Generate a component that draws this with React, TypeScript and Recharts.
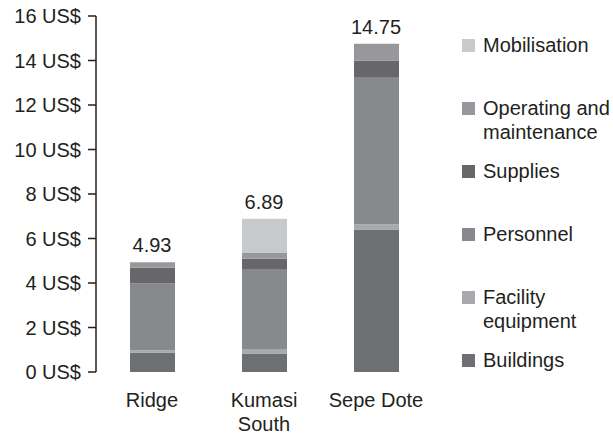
import React from 'react';
import { BarChart, Bar, XAxis, YAxis, ReferenceDot } from 'recharts';

const categories = ['Ridge', 'Kumasi South', 'Sepe Dote'];
const buildings = [0.88, 0.83, 6.4];
const facilityEquipment = [0.1, 0.2, 0.23];
const personnel = [3.0, 3.6, 6.6];
const supplies = [0.7, 0.46, 0.77];
const operatingMaintenance = [0.25, 0.28, 0.75];
const mobilisation = [0, 1.52, 0];
const totals = [4.93, 6.89, 14.75];
const totalLabels = ['4.93', '6.89', '14.75'];
const yTicks = [0, 2, 4, 6, 8, 10, 12, 14, 16];
const boundaryTicks = [1, 2, 3];

const series = [
  { key: 'buildings', name: 'Buildings', values: buildings, color: '#6e6f72' },
  { key: 'facility', name: 'Facility equipment', values: facilityEquipment, color: '#a8a9ac' },
  { key: 'personnel', name: 'Personnel', values: personnel, color: '#88898c' },
  { key: 'supplies', name: 'Supplies', values: supplies, color: '#676769' },
  { key: 'om', name: 'Operating and maintenance', values: operatingMaintenance, color: '#97989b' },
  { key: 'mobilisation', name: 'Mobilisation', values: mobilisation, color: '#c8c9cb' },
];

const data = categories.map((name, i) => {
  const row: any = { name, pos: i + 0.5, total: totals[i], totalLabel: totalLabels[i] };
  series.forEach((s) => {
    row[s.key] = s.values[i];
  });
  return row;
});

const FONT = '"Liberation Sans", Arial, Helvetica, sans-serif';
const INK = '#231f20';
const FS = 20;
const WRAP_WIDTH = 104;

let ctx: CanvasRenderingContext2D | null = null;
function measure(text: string): number {
  if (!ctx && typeof document !== 'undefined') {
    ctx = document.createElement('canvas').getContext('2d');
  }
  if (!ctx) return text.length * FS * 0.55;
  ctx.font = `${FS}px ${FONT}`;
  return ctx.measureText(text).width;
}

function wrap(text: string, width: number): string[] {
  const words = text.split(/\s+/);
  const lines: string[] = [];
  let cur = '';
  words.forEach((w) => {
    const cand = cur ? `${cur} ${w}` : w;
    if (cur && measure(cand) > width) {
      lines.push(cur);
      cur = w;
    } else {
      cur = cand;
    }
  });
  if (cur) lines.push(cur);
  return lines;
}

const CatTick = (props: any) => {
  const { x, y, payload } = props;
  const lines = wrap(String(payload.value), WRAP_WIDTH);
  return (
    <text
      x={x}
      y={y}
      textAnchor="middle"
      fontSize={FS}
      fontFamily={FONT}
      fill={INK}
    >
      {lines.map((l, i) => (
        <tspan key={i} x={x} dy={i === 0 ? '0.71em' : 24}>
          {l}
        </tspan>
      ))}
    </text>
  );
};

export default function App() {
  const legendItems = [...series].reverse();
  return (
    <div style={{ position: 'absolute', left: 0, top: 0, width: 613, height: 434, background: '#fff' }}>
      <BarChart
        width={613}
        height={434}
        data={data}
        margin={{ top: 16, right: 181, left: 0, bottom: 0 }}
        barSize={45}
      >
        <XAxis
          xAxisId="bound"
          type="number"
          dataKey="pos"
          domain={[0, 3]}
          ticks={boundaryTicks}
          allowDataOverflow
          height={0}
          tick={false}
          tickSize={7}
          axisLine={{ stroke: INK, strokeWidth: 1.5 }}
          tickLine={{ stroke: INK, strokeWidth: 1.5 }}
        />
        <XAxis
          xAxisId="cat"
          dataKey="name"
          height={62}
          axisLine={false}
          tickLine={false}
          tickSize={0}
          tickMargin={21}
          interval={0}
          tick={<CatTick />}
        />
        <YAxis
          width={96}
          domain={[0, 16]}
          ticks={yTicks}
          interval={0}
          tickFormatter={(v: number) => `${v} US$`}
          tick={{ fontSize: FS, fontFamily: FONT, fill: INK }}
          tickSize={8}
          tickMargin={7}
          axisLine={{ stroke: INK, strokeWidth: 1.5 }}
          tickLine={{ stroke: INK, strokeWidth: 1.5 }}
        />
        {series.map((s) => (
          <Bar
            key={s.key}
            xAxisId="cat"
            dataKey={s.key}
            name={s.name}
            stackId="a"
            fill={s.color}
            isAnimationActive={false}
          />
        ))}
        {data.map((d) => (
          <ReferenceDot
            key={d.name}
            xAxisId="cat"
            x={d.name}
            y={d.total}
            r={0}
            fill="none"
            stroke="none"
            label={{
              value: d.totalLabel,
              position: 'top',
              offset: 10,
              fontSize: FS,
              fontFamily: FONT,
              fill: INK,
            }}
          />
        ))}
      </BarChart>
      <div
        style={{
          position: 'absolute',
          left: 462,
          top: 33,
          width: 151,
          fontFamily: FONT,
          fontSize: FS,
          lineHeight: '24px',
          color: INK,
        }}
      >
        {legendItems.map((s) => (
          <div key={s.key} style={{ height: 63, display: 'flex', alignItems: 'flex-start' }}>
            <div style={{ width: 13, height: 13, marginTop: 6, background: s.color, flex: 'none' }} />
            <div style={{ marginLeft: 8, width: 130 }}>{s.name}</div>
          </div>
        ))}
      </div>
    </div>
  );
}
